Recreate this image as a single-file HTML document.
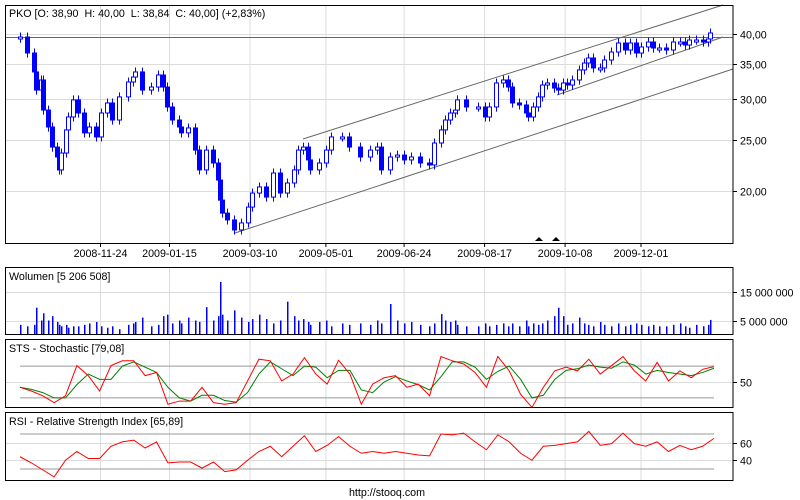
<!DOCTYPE html>
<html><head><meta charset="utf-8"><style>
html,body{margin:0;padding:0;background:#fff;}
svg{display:block;font-family:"Liberation Sans",sans-serif;font-size:10.7px;}
</style></head><body>
<svg id="chart" width="800" height="500" viewBox="0 0 800 500"></svg>
<script>
// ---- data ----
const closes = [39.47,36.78,33.83,31.23,32.65,28.59,26.53,24.28,23.24,21.95,
23.65,26.19,27.73,29.90,28.22,25.85,26.53,25.39,28.22,29.50,
27.36,30.30,32.36,33.08,33.83,31.23,31.65,33.38,31.65,28.98,
27.36,26.53,25.85,26.42,23.96,21.95,23.96,22.63,20.99,19.21,
18.14,17.60,16.84,17.37,18.63,19.82,20.36,19.47,21.65,19.82,
20.72,21.95,23.96,24.28,22.94,21.95,22.63,23.96,25.39,25.39,
24.28,23.24,23.96,24.28,21.95,23.24,23.44,22.94,23.24,22.63,
22.44,24.72,26.19,27.36,28.22,28.59,29.90,28.98,28.98,27.73,
28.98,32.22,32.65,31.65,29.50,29.24,28.22,27.73,28.98,30.30,
31.93,32.22,31.51,31.23,32.22,31.93,32.65,34.13,35.19,35.98,
34.43,34.43,35.66,36.94,38.44,37.27,38.44,36.78,37.77,38.61,
37.60,37.60,37.27,38.61,38.61,38.10,38.95,38.95,38.61,39.13,
40.18];
const days = [0,3,6,7,9,10,12,14,16,17,
18,20,21,23,25,28,30,33,35,38,
40,43,47,49,50,53,57,60,62,64,
66,69,70,73,76,78,81,84,86,87,
88,90,93,96,99,101,104,107,110,113,
116,119,121,123,125,126,130,133,135,140,
143,148,152,155,157,161,164,167,170,174,
178,180,183,185,187,189,190,194,199,202,
204,207,210,212,214,217,220,221,223,225,
227,229,232,234,236,238,240,243,245,247,
249,252,254,257,260,263,265,268,270,273,
275,278,281,284,287,289,291,294,297,299,
300];
const volumes = [3.5,3,3.5,9.4,5,7.5,5,6.5,4.5,3.5,
3,3.5,2.5,3,3,3.5,4,4.5,3,2.5,
3,2,3.5,4,4.5,6,3,3.5,6.5,7,
4,5,4,6,5,4.5,9.6,5,6.5,18.3,
7,5,8.5,6,4.5,5.5,7,5.5,4,5,
11.5,6.5,5,5.5,4.5,3.5,4.5,5,3,4,
3.5,4,3.5,5,4,10.7,5,4,4.5,3.5,
3,4,7.2,5,4.5,5,3.5,3,3,4,
3,3.5,4,3,4,3,5,3,4,3.5,
4,5,6.5,9.4,6.5,3.5,4,6,4,3.5,
3,4.5,3.5,3,4,3,3.5,4,3.5,3,
3.5,3,3,3.5,4,3,2.5,3.5,3,3.5,
5.2];
const stochK = [40,33,24,11,24,81,62,33,81,90,90,62,68,8,14,14,40,11,8,11,
52,93,90,52,65,96,65,46,91,65,8,46,58,62,40,46,24,98,90,84,
68,40,98,71,27,2,40,71,78,71,93,65,81,98,71,52,87,52,71,58,74,79];
const stochD = [40,36,30,20,20,45,65,55,55,80,88,78,68,40,20,14,25,25,15,12,
30,65,88,75,62,80,78,58,72,72,35,30,50,60,52,45,35,60,88,88,
78,55,70,80,55,20,25,55,72,75,82,78,76,88,82,65,72,68,65,62,68,76];
const rsi = [44,37,29,21,40,50,42,42,56,61,63,54,61,37,38,38,31,38,27,29,
40,50,56,44,56,68,50,57,67,56,48,50,48,50,48,46,45,70,69,71,
61,52,69,61,48,40,56,57,59,61,73,57,59,71,59,56,61,50,57,52,56,65];
const dateLabels = ["2008-11-24","2009-01-15","2009-03-10","2009-05-01","2009-06-24","2009-08-17","2009-10-08","2009-12-01"];
const dateDays = [35,65,100,133,167,202,237,270];
const priceTicks = [40,35,30,25,20];
const priceTickLabels = ["40,00","35,00","30,00","25,00","20,00"];
const volTicks = [15,5];
const volTickLabels = ["15 000 000","5 000 000"];
const rsiTicks = [60,40];

// ---- scales ----
const NS="http://www.w3.org/2000/svg";
const svg=document.getElementById('chart');
const xDay=d=>20+d*2.3;
const yPrice=p=>34+(Math.log(40)-Math.log(p))*226.5;
const yVol=v=>335-v*2.9;
const yStoch=v=>382-(v-50)*0.53;
const yRsi=v=>434+(70-v)*0.875;
const xOsc=i=>20+i*(694/(stochK.length-1));
function el(tag,attrs,parent){const e=document.createElementNS(NS,tag);for(const k in attrs)e.setAttribute(k,attrs[k]);(parent||svg).appendChild(e);return e;}

const panels=[["price-panel",5,5,243],["volume-panel",5,267,334],["stochastic-panel",5,339,407],["rsi-panel",5,412,480]];
const groups={};
panels.forEach(p=>{
  const g=el('g',{});
  
  
  groups[p[0]]=g;
});
panels.forEach(p=>{
  dateDays.forEach(d=>{
    const l=el('line',{x1:xDay(d),x2:xDay(d),y1:p[2],y2:p[3],stroke:'#dcdcdc','stroke-width':1},groups[p[0]]);
    
    
  });
});

// ---- price panel ----
const gp=groups['price-panel'];
priceTicks.forEach((t,i)=>{
  const y=Math.round(yPrice(t))+0.5;
  const l=el('line',{x1:5,x2:733,y1:y,y2:y,stroke:'#dcdcdc'},gp);
  
  
  el('line',{x1:733,x2:737,y1:y,y2:y,stroke:'#000'},gp);
  const tx=el('text',{x:740,y:y+4,fill:'#000'},gp);
  tx.textContent=priceTickLabels[i];
  
  
});
dateLabels.forEach((s,i)=>{
  const x=xDay(dateDays[i]);
  el('line',{x1:x,x2:x,y1:243,y2:247,stroke:'#000'},gp);
  const tx=el('text',{x:x,y:257,'text-anchor':'middle',fill:'#000'},gp);
  tx.textContent=s;
  
  
});
const lines=[[5,37.5,733,37.5,'resistance-line'],[303,139,723,5,'channel-upper'],[557,95,723,37,'channel-middle'],[235,233,733,69,'channel-lower']];
lines.forEach(c=>{
  const l=el('line',{x1:c[0],y1:c[1],x2:c[2],y2:c[3],stroke:'#666','stroke-width':1},gp);
  
  
});
closes.forEach((c,i)=>{
  const o=i>0?closes[i-1]:c*0.995;
  const x=Math.round(xDay(days[i]));
  const hi=Math.max(o,c)*1.02, lo=Math.min(o,c)*0.98;
  const w=el('line',{x1:x+0.5,x2:x+0.5,y1:yPrice(hi),y2:yPrice(lo),stroke:'#0000ff'},gp);
  
  
  const yt=yPrice(Math.max(o,c)), yb=yPrice(Math.min(o,c));
  const r=el('rect',{x:x-1.5,y:yt,width:4,height:Math.max(2,yb-yt),fill:c>=o?'#fff':'#0000ff',stroke:'#0000ff','stroke-width':1},gp);
  
  
});
[539,556].forEach(x=>{
  const t=el('polygon',{points:`${x-4},241 ${x+4},241 ${x},237`,fill:'#000'},gp);
  
  
});
const title=el('text',{x:9,y:17,fill:'#000'},gp);
title.textContent='PKO [O: 38,90  H: 40,00  L: 38,84  C: 40,00] (+2,83%)';


title.style.whiteSpace='pre';

// ---- volume ----
const gv=groups['volume-panel'];
volTicks.forEach((t,i)=>{
  const y=Math.round(yVol(t))+0.5;
  const l=el('line',{x1:5,x2:733,y1:y,y2:y,stroke:'#dcdcdc'},gv);
  
  
  el('line',{x1:733,x2:737,y1:y,y2:y,stroke:'#000'},gv);
  const tx=el('text',{x:740,y:y+4,fill:'#000'},gv);
  tx.textContent=volTickLabels[i];
  
  
});
volumes.forEach((v,i)=>{
  const x=Math.round(xDay(days[i]));
  const b=el('rect',{x:x,y:yVol(v),width:1.5,height:335-yVol(v),fill:'#0000ff'},gv);
  
  
});
const vt=el('text',{x:9,y:280,fill:'#000'},gv);
vt.textContent='Wolumen [5 206 508]';



// ---- stochastic ----
const gs=groups['stochastic-panel'];
{const y=Math.round(yStoch(50))+0.5;
const l=el('line',{x1:5,x2:733,y1:y,y2:y,stroke:'#dcdcdc'},gs);


el('line',{x1:733,x2:737,y1:y,y2:y,stroke:'#000'},gs);
const tx=el('text',{x:740,y:y+4,fill:'#000'},gs);
tx.textContent='50';

}
[80,20].forEach(v=>{
  const l=el('line',{x1:20,x2:714,y1:yStoch(v),y2:yStoch(v),stroke:'#999'},gs);
  
  
});
const pd=el('polyline',{points:stochD.map((v,i)=>`${xOsc(i)},${yStoch(v)}`).join(' '),fill:'none',stroke:'#008000'},gs);


const pk=el('polyline',{points:stochK.map((v,i)=>`${xOsc(i)},${yStoch(v)}`).join(' '),fill:'none',stroke:'#ff0000'},gs);


const st=el('text',{x:9,y:352,fill:'#000'},gs);
st.textContent='STS - Stochastic [79,08]';



// ---- RSI ----
const gr=groups['rsi-panel'];
rsiTicks.forEach(t=>{
  const y=Math.round(yRsi(t))+0.5;
  const l=el('line',{x1:5,x2:733,y1:y,y2:y,stroke:'#dcdcdc'},gr);
  
  
  el('line',{x1:733,x2:737,y1:y,y2:y,stroke:'#000'},gr);
  const tx=el('text',{x:740,y:y+4,fill:'#000'},gr);
  tx.textContent=String(t);
  
  
});
[70,30].forEach(v=>{
  const l=el('line',{x1:20,x2:714,y1:yRsi(v),y2:yRsi(v),stroke:'#999'},gr);
  
  
});
const pr=el('polyline',{points:rsi.map((v,i)=>`${xOsc(i)},${yRsi(v)}`).join(' '),fill:'none',stroke:'#ff0000'},gr);


const rt=el('text',{x:9,y:425,fill:'#000'},gr);
rt.textContent='RSI - Relative Strength Index [65,89]';



panels.forEach(p=>{
  const f=el('rect',{x:5.5,y:p[2]+0.5,width:727.5,height:p[3]-p[2],fill:'none',stroke:'#000','stroke-width':1},groups[p[0]]);
  
  
});
const ft=el('text',{x:387,y:496,'text-anchor':'middle',fill:'#000'});
ft.textContent='http://stooq.com';


</script>
</body></html>
